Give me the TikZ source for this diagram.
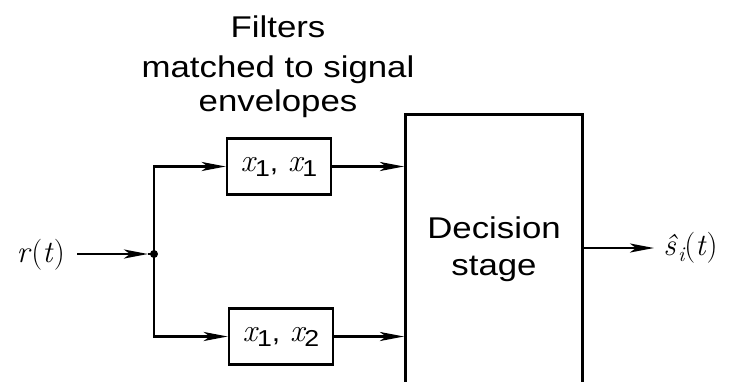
\documentclass[tikz,border=0pt]{standalone}
\usepackage{fontspec}
\newfontfamily\lab[FakeStretch=1.16]{Liberation Sans}
\newfontfamily\lmr{Latin Modern Roman}
\usetikzlibrary{arrows.meta}
\newcommand\subsf[1]{\raisebox{-5pt}{\lab\fontsize{23}{23}\selectfont #1}}
\newcommand\vx{{\lmr\itshape x}}
\begin{document}
\begin{tikzpicture}[x=1pt,y=-1pt, line width=2.5pt,
  lbl/.style={font=\lab\fontsize{30}{36}\selectfont, inner sep=0pt},
  filt/.style={draw, minimum width=104pt, minimum height=56pt, inner sep=0pt, font=\lmr\fontsize{32}{32}\selectfont},
  sig/.style={-{Stealth[length=24pt,width=9pt,inset=6pt]}},
  mth/.style={font=\lmr\fontsize{31}{31}\selectfont, inner sep=0pt}]
\useasboundingbox (0,0) rectangle (731,381);
\clip (0,0) rectangle (731,381);
% title
\node[lbl, anchor=base] (t1) at (278,37) {Filters};
\node[lbl, anchor=base] (t2) at (278,77) {matched to signal};
\node[lbl, anchor=base] (t3) at (278,111) {envelopes};
% filters
\node[filt] (f1) at (279,166.5) {\vx\subsf{1}{\lab\fontsize{26}{26}\selectfont,} \vx\subsf{1}};
\node[filt] (f2) at (281,336.5) {\vx\subsf{1}{\lab\fontsize{26}{26}\selectfont,} \vx\subsf{2}};
% decision stage
\node[draw, minimum width=177pt, minimum height=330pt, inner sep=0pt, anchor=north west] (dec) at (404,113) {};
\node[lbl, anchor=base] (d1) at (494,238) {Decision};
\node[lbl, anchor=base] (d2) at (494,275) {stage};
% input
\node[mth, anchor=east] (r) at (66,255) {\textit{r}(\textit{t})};
\coordinate (rin) at (77,254);
\coordinate (rmid) at (148,254);
\coordinate (j) at (154,254);
\draw[sig] (rin) -- (rmid);
\draw (rmid) -- (j);
\fill (j) circle (4pt);
\draw[sig] (j) |- (f1.west);
\draw[sig] (j) |- (f2.west);
\draw[sig] (f1.east) -- (f1.east -| dec.west);
\draw[sig] (f2.east) -- (f2.east -| dec.west);
% output
\coordinate (o) at (654,248);
\draw[sig] (dec.east |- o) -- (o);
\node[mth, anchor=west] (s) at (662,248) {\textit{\^{s}}\raisebox{-6pt}{\fontsize{21}{21}\selectfont\itshape i}(\textit{t})};
\end{tikzpicture}
\end{document}
